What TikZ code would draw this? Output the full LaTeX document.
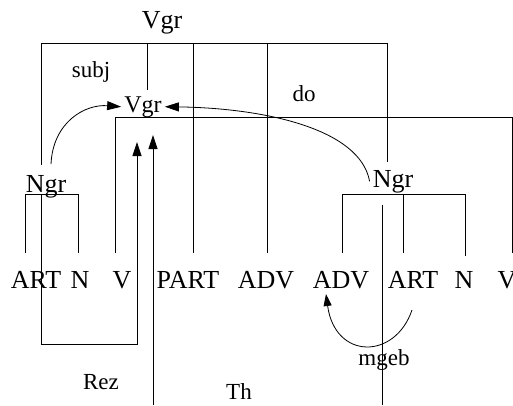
\documentclass[tikz,border=0pt]{standalone}
\usepackage{fontspec}
\setmainfont{Liberation Serif}
\usetikzlibrary{arrows.meta,calc}
\begin{document}
\begin{tikzpicture}[x=1pt,y=-1pt,
  big/.style={font=\fontsize{26}{30}\selectfont, inner sep=3pt, anchor=base},
  mid/.style={font=\fontsize{24}{28}\selectfont, inner sep=3pt, anchor=base},
  lab/.style={font=\fontsize{23}{27}\selectfont, inner sep=1pt, anchor=base},
  ln/.style={line width=0.8pt},
  arr/.style={line width=0.8pt, -{Triangle[length=14pt,width=9pt]}},
  arrs/.style={line width=0.8pt, -{Triangle[length=12pt,width=8pt]}}]
\useasboundingbox (0,0) rectangle (513,405);
% category nodes
\node[big] (vgrtop) at (162,28) {Vgr};
\node[mid] (vgr) at (143,112) {Vgr};
\node[big] (ngrL) at (46,192) {Ngr};
\node[big] (ngrR) at (393,187) {Ngr};
% words
\node[big] (art1) at (36,288) {ART};
\node[big] (n1) at (80,288) {N};
\node[big] (v1) at (122,288) {V};
\node[big] (part) at (188,288) {PART};
\node[big] (adv1) at (266,288) {ADV};
\node[big] (adv2) at (341,288) {ADV};
\node[big] (art2) at (413,288) {ART};
\node[big] (n2) at (464,288) {N};
\node[big] (v2) at (507,288) {V};
% labels
\node[lab] (subj) at (91,77) {subj};
\node[lab] (do) at (304,101) {do};
\node[lab] (rez) at (101,389) {Rez};
\node[lab] (th) at (239,399) {Th};
\node[lab] (mgeb) at (384,365) {mgeb};
% top Vgr tree
\draw[ln] (41,43) -- (387,43);
\draw[ln] (41,43) -- (41,165);
\draw[ln] (147,43) -- (147,90);
\draw[ln] (193,43) -- (193,253);
\draw[ln] (267,43) -- (267,253);
\draw[ln] (387,43) -- (387,162);
% V ... V bracket
\draw[ln] (115,253) -- (115,117) -- (512,117) -- (512,253);
% left Ngr
\draw[ln] (25,253) -- (25,194) -- (78,194) -- (78,253);
% right Ngr
\draw[ln] (342,253) -- (342,194) -- (465,194) -- (465,256);
\draw[ln] (403,194) -- (403,253);
% Rez bracket with arrow
\draw[arr] (41,194) -- (41,344) -- (137,344) -- (137,142);
% Th arrow
\coordinate (thstart) at (153,405);
\draw[arr] (thstart) -- (153,135);
% vertical through right ART
\draw[ln] (382,205) -- (382,405);
% subj and do arrows
\coordinate (sL) at (51,164);
\draw[arr] (sL) .. controls (53,122) and (85,104) .. (vgr.west);
\draw[arr] (ngrR.west) .. controls (360,128) and (262,108) .. (vgr.east);
% mgeb arrow
\coordinate (mg) at (412,310);
\draw[arrs] (mg) .. controls (395,360) and (335,360) .. (326,294);
\end{tikzpicture}
\end{document}
